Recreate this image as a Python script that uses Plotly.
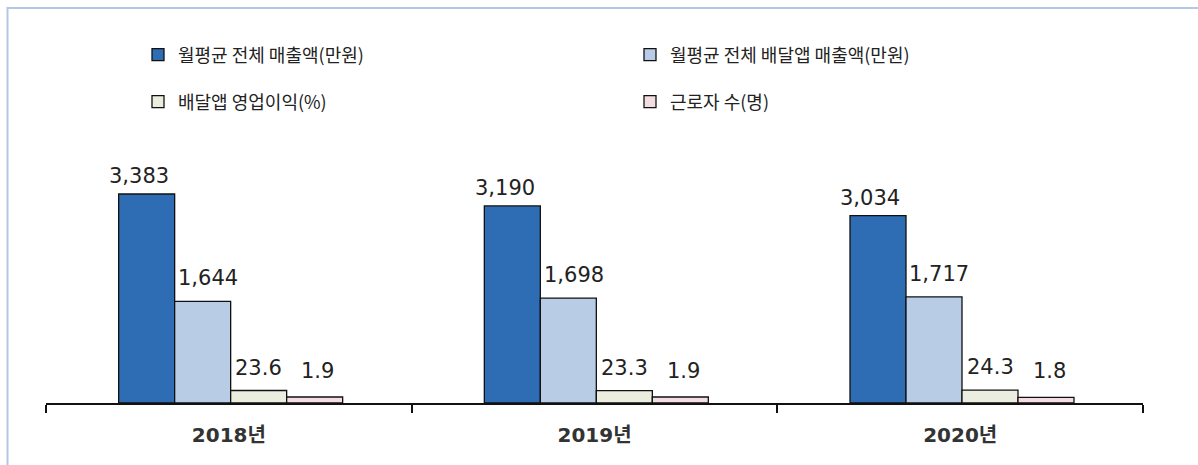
import plotly.graph_objects as go

# Categories and series values
years = ["2018년", "2019년", "2020년"]
monthly_sales = [3383, 3190, 3034]          # 월평균 전체 매출액(만원)
delivery_sales = [1644, 1698, 1717]         # 월평균 전체 배달앱 매출액(만원)
delivery_margin = [23.6, 23.3, 24.3]        # 배달앱 영업이익(%)
workers = [1.9, 1.9, 1.8]                   # 근로자 수(명)

names = ["월평균 전체 매출액(만원)", "월평균 전체 배달앱 매출액(만원)",
         "배달앱 영업이익(%)", "근로자 수(명)"]
series = [monthly_sales, delivery_sales, delivery_margin, workers]
colors = ["#2E6DB4", "#B8CCE6", "#EBEEDF", "#F2DDE0"]
axes = ["y", "y", "y2", "y3"]
legends = ["legend", "legend", "legend2", "legend2"]

W, H = 1198, 465
ML, MR, MT, MB = 46, 55, 150, 62
plot_w = W - ML - MR
plot_h = H - MT - MB

bar_w = 56 / (plot_w / 3)   # bar width in category units

fig = go.Figure()
for i, (name, vals, col, ax, lg) in enumerate(zip(names, series, colors, axes, legends)):
    fig.add_trace(go.Bar(
        x=years, y=vals, name=name, yaxis=ax, legend=lg,
        marker=dict(color=col, line=dict(color="#111111", width=1.3)),
        width=bar_w, offset=(i - 2) * bar_w + 0.005,
        hoverinfo="skip",
    ))

# Value labels above each bar
label_dx = [-8, 5, 0, 3]
label_dy = [18, 23, 23, 26]
for i, (vals, ax) in enumerate(zip(series, axes)):
    for yr, v in zip(years, vals):
        txt = f"{v:,}" if isinstance(v, int) else f"{v}"
        fig.add_annotation(
            x=yr, y=v, xref="x", yref=ax, text=txt, showarrow=False,
            xanchor="center", yanchor="middle",
            xshift=(i - 1.5) * 56 + 2 + label_dx[i], yshift=label_dy[i],
            font=dict(family="DejaVu Sans", size=21, color="#222222"),
        )

legend_font = dict(family="Noto Sans CJK KR", size=18, color="#222222")

# Light blue outer frame
fig.add_shape(type="rect", xref="paper", yref="paper",
              x0=(7.5 - ML) / plot_w, x1=1.2,
              y0=-0.5, y1=1 + (MT - 8) / plot_h,
              line=dict(color="#B4C7E7", width=2), fillcolor="rgba(0,0,0,0)")

fig.update_layout(
    width=W, height=H,
    margin=dict(l=ML, r=MR, t=MT, b=MB),
    paper_bgcolor="white", plot_bgcolor="white",
    barmode="overlay",
    showlegend=True,
    legend=dict(orientation="h", x=(138 - ML) / plot_w, xanchor="left",
                y=1 + (MT - 55) / plot_h, yanchor="middle",
                entrywidth=447, entrywidthmode="pixels",
                font=legend_font, bgcolor="rgba(0,0,0,0)", traceorder="normal"),
    legend2=dict(orientation="h", x=(138 - ML) / plot_w, xanchor="left",
                 y=1 + (MT - 102) / plot_h, yanchor="middle",
                 entrywidth=447, entrywidthmode="pixels",
                 font=legend_font, bgcolor="rgba(0,0,0,0)", traceorder="normal"),
    xaxis=dict(
        type="category", range=[-0.5, 2.5],
        showline=True, linecolor="#111111", linewidth=1.5,
        ticks="outside", tickson="boundaries", ticklen=8, tickwidth=1.5,
        tickcolor="#111111", showgrid=False, zeroline=False,
        ticklabelstandoff=13,
        tickfont=dict(family="DejaVu Sans, Noto Sans CJK KR", size=20,
                      color="#333333", weight="bold"),
    ),
    yaxis=dict(range=[0, 4095], visible=False, showgrid=False),
    yaxis2=dict(range=[0, 478], overlaying="y", visible=False, showgrid=False),
    yaxis3=dict(range=[0, 80], overlaying="y", visible=False, showgrid=False),
)

fig.write_html("out.html")
